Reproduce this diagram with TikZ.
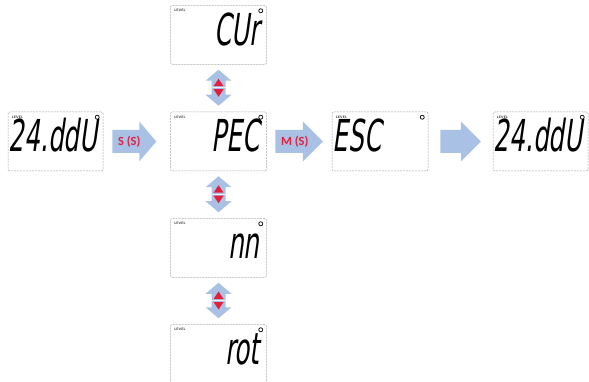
\documentclass[tikz,border=0pt]{standalone}
\usepackage{fontspec}
\usetikzlibrary{calc}
\newfontfamily\segfont[FakeSlant=0.14,FakeStretch=0.56]{DejaVu Sans}
\newfontfamily\lblfont{Carlito}
\definecolor{arrowblue}{RGB}{168,193,229}
\definecolor{labred}{RGB}{226,32,62}
\newcommand\myharrow[3]{%
  \path (#1) coordinate (hs) (#2) coordinate (he);
  \fill[arrowblue] ($(hs)+(0,-11.5)$) -- ($(he)+(-#3,-11.5)$) -- ($(he)+(-#3,-20)$) -- (he)
    -- ($(he)+(-#3,20)$) -- ($(he)+(-#3,11.5)$) -- ($(hs)+(0,11.5)$) -- cycle;}
\newcommand\myvarrow[2]{%
  \path (#1) coordinate (vs) (#2) coordinate (ve);
  \fill[arrowblue] (vs) -- ($(vs)+(13,11)$) -- ($(vs)+(7,11)$) -- ($(ve)+(7,-11)$) -- ($(ve)+(13,-11)$)
    -- (ve) -- ($(ve)+(-13,-11)$) -- ($(ve)+(-7,-11)$) -- ($(vs)+(-7,11)$) -- ($(vs)+(-13,11)$) -- cycle;
  \coordinate (vm) at ($(vs)!0.5!(ve)$);
  \fill[labred] ($(vm)+(0,-9)$) -- ($(vm)+(5,-1.5)$) -- ($(vm)+(-5,-1.5)$) -- cycle;
  \fill[labred] ($(vm)+(0,9)$) -- ($(vm)+(5,1.5)$) -- ($(vm)+(-5,1.5)$) -- cycle;
  \draw[white, line width=0.9pt, opacity=0.8] ($(vm)+(-7,0)$) -- ($(vm)+(7,0)$);}
\begin{document}
\begin{tikzpicture}[x=1pt,y=-1pt,
  lcd/.style={draw=black!35, dash pattern=on 2pt off 1pt, line width=0.5pt, rounded corners=2pt,
    minimum width=96pt, minimum height=59pt, inner sep=0pt, fill=white},
  seg/.style={font=\segfont\fontsize{44}{44}\selectfont, inner sep=0pt},
  lvl/.style={font=\sffamily\bfseries\fontsize{3.5}{4}\selectfont, inner sep=0pt, anchor=north west, text=black!80},
  ring/.style={circle, draw=black, line width=0.7pt, minimum size=4pt, inner sep=0pt},
  lbl/.style={font=\lblfont\bfseries\fontsize{12.5}{12.5}\selectfont, text=labred, inner sep=0pt}]
\useasboundingbox (0,0) rectangle (589,382);
% boxes
\node[lcd] (cur) at (218.5,35) {};
\node[lcd] (pec) at (218.5,141.5) {};
\node[lcd] (nn) at (218.5,248) {};
\node[lcd] (rot) at (218.5,354) {};
\node[lcd, minimum width=95pt] (d1) at (55.5,141.5) {};
\node[lcd] (esc) at (380,141.5) {};
\node[lcd, minimum width=95pt] (d2) at (540.5,141.5) {};
\foreach \b in {cur,pec,nn,rot,d1,esc,d2} {
  \node[lvl] (\b-lv) at ($(\b.north west)+(4,4)$) {LEVEL};
  \node[ring] (\b-rg) at ($(\b.north east)+(-6,5.5)$) {};
}
% display texts
\node[seg, anchor=base east] (cur-t) at ($(cur.north east)+(-7,40)$) {CUr};
\node[seg, anchor=base east] (pec-t) at ($(pec.north east)+(-7,40)$) {PEC};
\node[seg, anchor=base east] (nn-t) at ($(nn.north east)+(-7,40)$) {nn};
\node[seg, anchor=base east] (rot-t) at ($(rot.north east)+(-7,40)$) {rot};
\node[seg, anchor=base west] (d1-t) at ($(d1.north west)+(1,40)$) {24.ddU};
\node[seg, anchor=base west] (esc-t) at ($(esc.north west)+(1,40)$) {ESC};
\node[seg, anchor=base west] (d2-t) at ($(d2.north west)+(1,40)$) {24.ddU};
% horizontal arrows
\myharrow{$(d1.east)+(9,0)$}{$(pec.west)+(-14,0)$}{17}
\node[lbl] (s-lbl) at ($(d1.east)+(26,0)$) {S (S)};
\myharrow{$(pec.east)+(8.5,0)$}{$(esc.west)+(-9,0)$}{20}
\node[lbl] (m-lbl) at ($(pec.east)+(28,0)$) {M (S)};
\myharrow{$(esc.east)+(12,0)$}{$(d2.west)+(-12,0)$}{20}
% vertical arrows
\myvarrow{$(cur.south)+(0,5)$}{$(pec.north)+(0,-6)$}
\myvarrow{$(pec.south)+(0,5)$}{$(nn.north)+(0,-6)$}
\myvarrow{$(nn.south)+(0,5)$}{$(rot.north)+(0,-6)$}
\end{tikzpicture}
\end{document}
